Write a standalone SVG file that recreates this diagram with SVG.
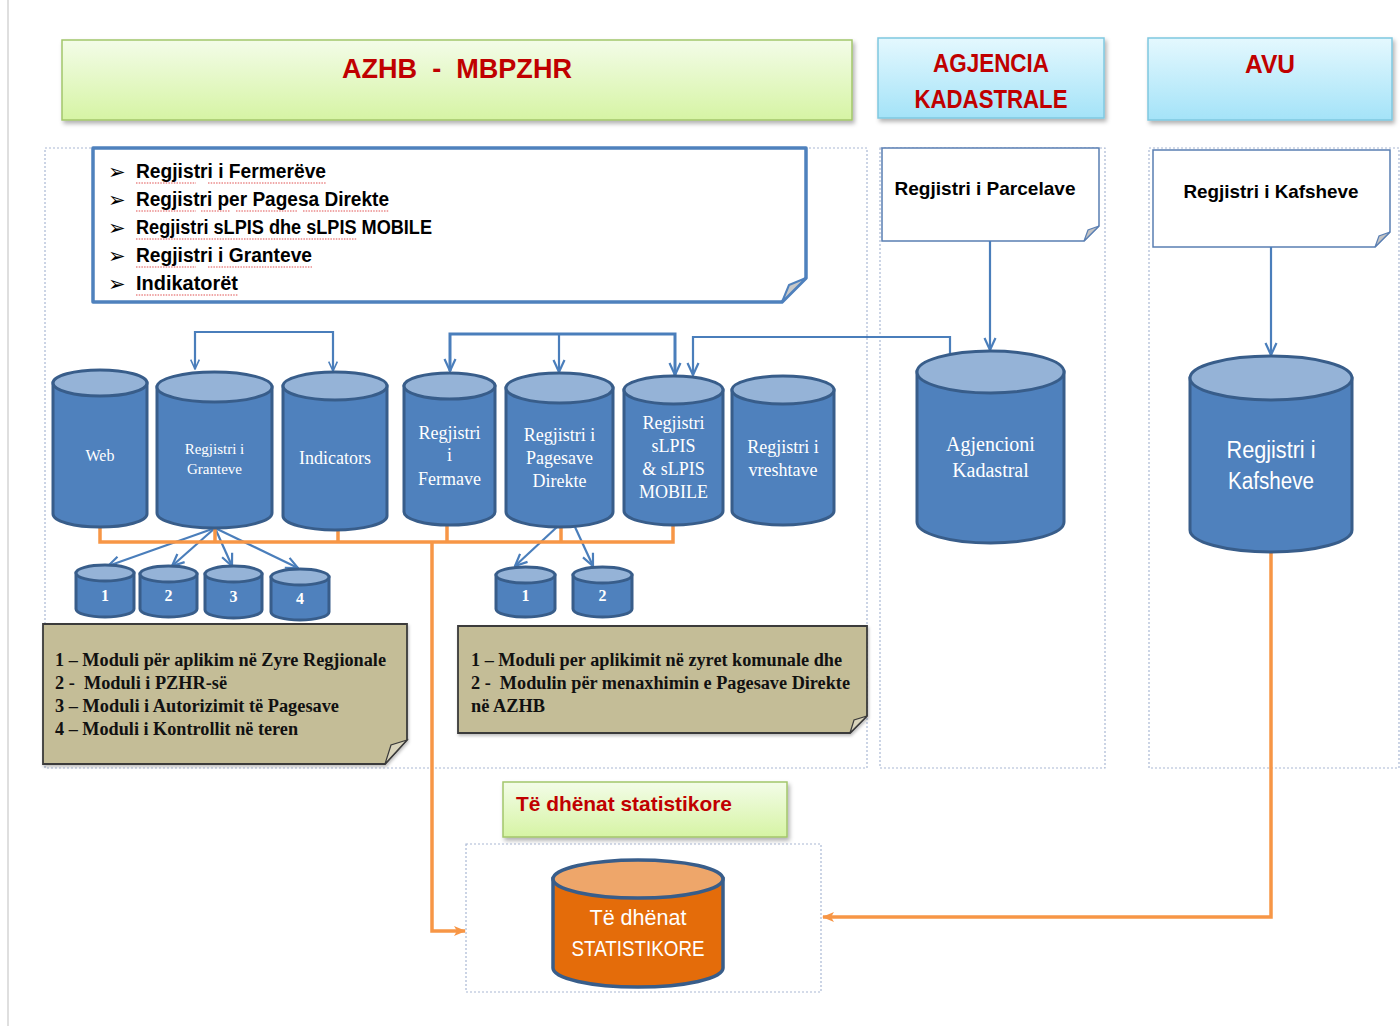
<svg xmlns="http://www.w3.org/2000/svg" width="1400" height="1026" viewBox="0 0 1400 1026">
<defs>
<linearGradient id="gGreen" x1="0" y1="0" x2="0" y2="1"><stop offset="0" stop-color="#f3fce8"/><stop offset="1" stop-color="#d6f4a4"/></linearGradient>
<linearGradient id="gBlue" x1="0" y1="0" x2="0" y2="1"><stop offset="0" stop-color="#e4f8fe"/><stop offset="1" stop-color="#a4e3f8"/></linearGradient>
<filter id="sh" x="-5%" y="-10%" width="110%" height="130%"><feDropShadow dx="2" dy="3" stdDeviation="2" flood-color="#000" flood-opacity="0.3"/></filter>
<filter id="sh2" x="-5%" y="-10%" width="110%" height="130%"><feDropShadow dx="1" dy="2" stdDeviation="1.5" flood-color="#000" flood-opacity="0.25"/></filter>
<marker id="chev" viewBox="0 0 14 14" refX="13" refY="7" markerWidth="14" markerHeight="14" markerUnits="userSpaceOnUse" orient="auto"><path d="M1 1.5 L13 7 L1 12.5" fill="none" stroke="#4a7ebb" stroke-width="2.2"/></marker>
<marker id="chevS" viewBox="0 0 14 14" refX="13" refY="7" markerWidth="11" markerHeight="11" markerUnits="userSpaceOnUse" orient="auto"><path d="M1 1.5 L13 7 L1 12.5" fill="none" stroke="#4a7ebb" stroke-width="2"/></marker>
<marker id="oarr" viewBox="0 0 12 12" refX="11" refY="6" markerWidth="12" markerHeight="12" markerUnits="userSpaceOnUse" orient="auto"><path d="M0 1 L12 6 L0 11 L3 6 Z" fill="#f79646"/></marker>
</defs>
<style>
.cyl{fill:#4f81bd;stroke:#385d8a;stroke-width:3}
.cylt{fill:#95b3d7;stroke:#385d8a;stroke-width:3}
.ocyl{fill:#e46c0a;stroke:#385d8a;stroke-width:3.5}
.ocylt{fill:#eea66a;stroke:#385d8a;stroke-width:3.5}
.ct{font-family:"Liberation Serif","DejaVu Serif",serif;fill:#fff;text-anchor:middle}
.num{font-family:"Liberation Serif",serif;font-weight:bold;font-size:16px;fill:#fff;text-anchor:middle}
.dash{fill:none;stroke:#a9b8d4;stroke-width:1.2;stroke-dasharray:2 2}
.hdr{font-family:"Liberation Sans","Open Sans",sans-serif;font-weight:bold;fill:#c00000;text-anchor:middle}
.lst{font-family:"Liberation Sans","Open Sans",sans-serif;font-weight:bold;font-size:20px;fill:#000}
.bul{font-family:"DejaVu Sans",sans-serif;font-size:21px;fill:#000}
.sq{stroke:#e05050;stroke-width:1.2;stroke-dasharray:1.5 1.2;fill:none}
.note{font-family:"Liberation Serif","DejaVu Serif",serif;font-weight:bold;font-size:18px;fill:#111}
.blue{fill:none;stroke:#4a7ebb;stroke-width:3}
.blue2{fill:none;stroke:#4a7ebb;stroke-width:2.2}
.org{fill:none;stroke:#f79646;stroke-width:3.5}
</style>
<rect width="1400" height="1026" fill="#fff"/>
<line x1="8" y1="0" x2="8" y2="1026" stroke="#d4d4d4" stroke-width="1.5"/>

<!-- dotted containers -->
<g id="containers">
<rect class="dash" x="45" y="148" width="822" height="620"/>
<rect class="dash" x="880" y="148" width="225" height="620"/>
<rect class="dash" x="1149" y="148" width="250" height="620"/>
<rect class="dash" x="466" y="844" width="355" height="148"/>
</g>

<!-- headers -->
<g id="hdr-azhb">
<rect x="62" y="40" width="790" height="80" fill="url(#gGreen)" stroke="#a3c66b" stroke-width="1.5" filter="url(#sh)"/>
<text class="hdr" x="457" y="78" font-size="28" xml:space="preserve" textLength="230" lengthAdjust="spacingAndGlyphs">AZHB  -  MBPZHR</text>
</g>
<g id="hdr-agjencia">
<rect x="878" y="38" width="226" height="80" fill="url(#gBlue)" stroke="#7fc8e0" stroke-width="1.5" filter="url(#sh)"/>
<text class="hdr" x="991" y="72" font-size="26" textLength="116" lengthAdjust="spacingAndGlyphs">AGJENCIA</text>
<text class="hdr" x="991" y="108" font-size="26" textLength="153" lengthAdjust="spacingAndGlyphs">KADASTRALE</text>
</g>
<g id="hdr-avu">
<rect x="1148" y="38" width="244" height="82" fill="url(#gBlue)" stroke="#7fc8e0" stroke-width="1.5" filter="url(#sh)"/>
<text class="hdr" x="1270" y="73" font-size="26" textLength="50" lengthAdjust="spacingAndGlyphs">AVU</text>
</g>
<g id="hdr-stat">
<rect x="503" y="782" width="284" height="55" fill="url(#gGreen)" stroke="#a3c66b" stroke-width="1.5" filter="url(#sh)"/>
<text class="hdr" x="516" y="811" font-size="21" style="text-anchor:start" textLength="216" lengthAdjust="spacingAndGlyphs">Të dhënat statistikore</text>
</g>

<!-- list note -->
<g id="note-list">
<path d="M93 148 H806 V278 L782 302 H93 Z" fill="#fff" stroke="#4f81bd" stroke-width="3.5" stroke-linejoin="round"/>
<path d="M806 278 L789 285 L782 302 Z" fill="#c8c8c8" stroke="#4f81bd" stroke-width="2" stroke-linejoin="round"/>
<text class="bul" x="108" y="179">➢</text>
<text class="bul" x="108" y="207">➢</text>
<text class="bul" x="108" y="235">➢</text>
<text class="bul" x="108" y="263">➢</text>
<text class="bul" x="108" y="291">➢</text>
<text class="lst" x="136" y="178" textLength="190" lengthAdjust="spacingAndGlyphs">Regjistri i Fermerëve</text>
<text class="lst" x="136" y="206" textLength="253" lengthAdjust="spacingAndGlyphs">Regjistri per Pagesa Direkte</text>
<text class="lst" x="136" y="234" textLength="296" lengthAdjust="spacingAndGlyphs">Regjistri sLPIS dhe sLPIS MOBILE</text>
<text class="lst" x="136" y="262" textLength="176" lengthAdjust="spacingAndGlyphs">Regjistri i Granteve</text>
<text class="lst" x="136" y="290" textLength="102" lengthAdjust="spacingAndGlyphs">Indikatorët</text>
<path class="sq" d="M136 183 H196 M208 183 H326 M136 211 H196 M201 211 H230 M236 211 H297 M303 211 H389 M136 239 H357 M136 267 H196 M208 267 H312 M136 295 H238"/>
</g>

<g id="note-parcelave">
<path d="M882 148 H1099 V226 L1084 241 H882 Z" fill="#fff" stroke="#5a7fb3" stroke-width="1.5"/>
<path d="M1099 226 L1088 230 L1084 241 Z" fill="#c4c4c4" stroke="#5a7fb3" stroke-width="1.2"/>
<text class="lst" x="985" y="195" style="text-anchor:middle;font-size:19px" textLength="181" lengthAdjust="spacingAndGlyphs">Regjistri i Parcelave</text>
</g>
<g id="note-kafsheve">
<path d="M1153 150 H1390 V232 L1375 247 H1153 Z" fill="#fff" stroke="#5a7fb3" stroke-width="1.5"/>
<path d="M1390 232 L1379 236 L1375 247 Z" fill="#c4c4c4" stroke="#5a7fb3" stroke-width="1.2"/>
<text class="lst" x="1271" y="198" style="text-anchor:middle;font-size:19px" textLength="175" lengthAdjust="spacingAndGlyphs">Regjistri i Kafsheve</text>
</g>

<!-- connectors -->
<g id="connectors">
<path class="blue2" d="M264 332 H195 V369" marker-end="url(#chevS)"/>
<path class="blue2" d="M264 332 H333 V371" marker-end="url(#chevS)"/>
<path class="blue" d="M560 334 H450 V371" marker-end="url(#chev)"/>
<path class="blue" d="M560 334 H675 V375" marker-end="url(#chev)"/>
<path class="blue2" d="M559 334 V372" marker-end="url(#chev)"/>
<path class="blue2" d="M950 353 V337 H693 V375" marker-end="url(#chev)"/>
<path class="blue2" d="M990 241 V350" marker-end="url(#chev)"/>
<path class="blue2" d="M1271 247 V355" marker-end="url(#chev)"/>
<path class="blue2" d="M215 528 L108 566" marker-end="url(#chev)"/>
<path class="blue2" d="M215 528 L172 566" marker-end="url(#chev)"/>
<path class="blue2" d="M215 528 L232 566" marker-end="url(#chev)"/>
<path class="blue2" d="M215 528 L298 568" marker-end="url(#chev)"/>
<path class="blue2" d="M557 527 L515 566" marker-end="url(#chev)"/>
<path class="blue2" d="M575 527 L593 566" marker-end="url(#chev)"/>
<path class="org" d="M100 527 V542 H673 V525"/>
<path class="org" d="M215 528 V542 M338 530 V542 M447 525 V542 M561 527 V542"/>
<path class="org" d="M432 542 V931 H465" marker-end="url(#oarr)"/>
<path class="org" d="M1271 552 V917 H823" marker-end="url(#oarr)"/>
</g>

<!-- cylinders -->
<g id="cyl-web">
<path class="cyl" d="M53 383 V514 A47 13 0 0 0 147 514 V383 Z"/>
<ellipse class="cylt" cx="100" cy="383" rx="47" ry="13"/>
<text class="ct" x="100" y="461" font-size="16">Web</text>
</g>
<g id="cyl-granteve">
<path class="cyl" d="M157 387 V513 A57.5 15 0 0 0 272 513 V387 Z"/>
<ellipse class="cylt" cx="214.5" cy="387" rx="57.5" ry="15"/>
<text class="ct" x="214.5" y="454" font-size="15">Regjistri i</text>
<text class="ct" x="214.5" y="474" font-size="15">Granteve</text>
</g>
<g id="cyl-indicators">
<path class="cyl" d="M283 386 V516 A52 14 0 0 0 387 516 V386 Z"/>
<ellipse class="cylt" cx="335" cy="386" rx="52" ry="14"/>
<text class="ct" x="335" y="464" font-size="18">Indicators</text>
</g>
<g id="cyl-fermave">
<path class="cyl" d="M404 386 V512 A45.5 13 0 0 0 495 512 V386 Z"/>
<ellipse class="cylt" cx="449.5" cy="386" rx="45.5" ry="13"/>
<text class="ct" x="449.5" y="439" font-size="18">Regjistri</text>
<text class="ct" x="449.5" y="461" font-size="18">i</text>
<text class="ct" x="449.5" y="485" font-size="18">Fermave</text>
</g>
<g id="cyl-pagesave">
<path class="cyl" d="M506 388 V512 A53.5 15 0 0 0 613 512 V388 Z"/>
<ellipse class="cylt" cx="559.5" cy="388" rx="53.5" ry="15"/>
<text class="ct" x="559.5" y="441" font-size="18">Regjistri i</text>
<text class="ct" x="559.5" y="464" font-size="18">Pagesave</text>
<text class="ct" x="559.5" y="487" font-size="18">Direkte</text>
</g>
<g id="cyl-slpis">
<path class="cyl" d="M624 390 V511 A49.5 14 0 0 0 723 511 V390 Z"/>
<ellipse class="cylt" cx="673.5" cy="390" rx="49.5" ry="14"/>
<text class="ct" x="673.5" y="429" font-size="18">Regjistri</text>
<text class="ct" x="673.5" y="452" font-size="18">sLPIS</text>
<text class="ct" x="673.5" y="475" font-size="18">&amp; sLPIS</text>
<text class="ct" x="673.5" y="498" font-size="18">MOBILE</text>
</g>
<g id="cyl-vreshtave">
<path class="cyl" d="M732 390 V511 A51 14 0 0 0 834 511 V390 Z"/>
<ellipse class="cylt" cx="783" cy="390" rx="51" ry="14"/>
<text class="ct" x="783" y="453" font-size="18">Regjistri i</text>
<text class="ct" x="783" y="476" font-size="18">vreshtave</text>
</g>
<g id="cyl-agjencioni">
<path class="cyl" d="M917 372 V522 A73.5 21 0 0 0 1064 522 V372 Z"/>
<ellipse class="cylt" cx="990.5" cy="372" rx="73.5" ry="21"/>
<text class="ct" x="990.5" y="451" font-size="20">Agjencioni</text>
<text class="ct" x="990.5" y="477" font-size="20">Kadastral</text>
</g>
<g id="cyl-kafsheve">
<path class="cyl" d="M1190 378 V530 A81 22 0 0 0 1352 530 V378 Z"/>
<ellipse class="cylt" cx="1271" cy="378" rx="81" ry="22"/>
<text class="ct" x="1271" y="458" font-size="23" style="font-family:'Liberation Sans','Open Sans',sans-serif" textLength="89" lengthAdjust="spacingAndGlyphs">Regjistri i</text>
<text class="ct" x="1271" y="489" font-size="23" style="font-family:'Liberation Sans','Open Sans',sans-serif" textLength="86" lengthAdjust="spacingAndGlyphs">Kafsheve</text>
</g>
<g id="cyl-m1">
<path class="cyl" d="M76 573 V609 A29 8 0 0 0 134 609 V573 Z"/>
<ellipse class="cylt" cx="105" cy="573" rx="29" ry="8"/>
<text class="num" x="105" y="601">1</text>
</g>
<g id="cyl-m2">
<path class="cyl" d="M140 574 V609 A28.5 8 0 0 0 197 609 V574 Z"/>
<ellipse class="cylt" cx="168.5" cy="574" rx="28.5" ry="8"/>
<text class="num" x="168.5" y="601">2</text>
</g>
<g id="cyl-m3">
<path class="cyl" d="M205 574 V610 A28.5 8 0 0 0 262 610 V574 Z"/>
<ellipse class="cylt" cx="233.5" cy="574" rx="28.5" ry="8"/>
<text class="num" x="233.5" y="602">3</text>
</g>
<g id="cyl-m4">
<path class="cyl" d="M271 577 V612 A29 8 0 0 0 329 612 V577 Z"/>
<ellipse class="cylt" cx="300" cy="577" rx="29" ry="8"/>
<text class="num" x="300" y="604">4</text>
</g>
<g id="cyl-p1">
<path class="cyl" d="M496 575 V609 A29.5 8 0 0 0 555 609 V575 Z"/>
<ellipse class="cylt" cx="525.5" cy="575" rx="29.5" ry="8"/>
<text class="num" x="525.5" y="601">1</text>
</g>
<g id="cyl-p2">
<path class="cyl" d="M573 575 V609 A29.5 8 0 0 0 632 609 V575 Z"/>
<ellipse class="cylt" cx="602.5" cy="575" rx="29.5" ry="8"/>
<text class="num" x="602.5" y="601">2</text>
</g>

<!-- beige notes -->
<g id="note-modules-left">
<path d="M43 624 H407 V740 L385 764 H43 Z" fill="#c4bd97" stroke="#3a3a3a" stroke-width="1.8" filter="url(#sh2)"/>
<path d="M407 740 L391 745 L385 764 Z" fill="#d9d4bb" stroke="#3a3a3a" stroke-width="1.2"/>
<text class="note" x="55" y="666" textLength="331" lengthAdjust="spacingAndGlyphs">1 – Moduli për aplikim në Zyre Regjionale</text>
<text class="note" x="55" y="689" xml:space="preserve" textLength="172" lengthAdjust="spacingAndGlyphs">2 -  Moduli i PZHR-së</text>
<text class="note" x="55" y="712" textLength="284" lengthAdjust="spacingAndGlyphs">3 – Moduli i Autorizimit të Pagesave</text>
<text class="note" x="55" y="735" textLength="243" lengthAdjust="spacingAndGlyphs">4 – Moduli i Kontrollit në teren</text>
</g>
<g id="note-modules-right">
<path d="M458 626 H867 V716 L850 733 H458 Z" fill="#c4bd97" stroke="#3a3a3a" stroke-width="1.8" filter="url(#sh2)"/>
<path d="M867 716 L854 720 L850 733 Z" fill="#d9d4bb" stroke="#3a3a3a" stroke-width="1.2"/>
<text class="note" x="471" y="666" textLength="371" lengthAdjust="spacingAndGlyphs">1 – Moduli per aplikimit në zyret komunale dhe</text>
<text class="note" x="471" y="689" xml:space="preserve" textLength="379" lengthAdjust="spacingAndGlyphs">2 -  Modulin për menaxhimin e Pagesave Direkte</text>
<text class="note" x="471" y="712" textLength="74" lengthAdjust="spacingAndGlyphs">në AZHB</text>
</g>

<!-- statistics cylinder -->
<g id="cyl-stat">
<path class="ocyl" d="M553 879 V968 A85 19 0 0 0 723 968 V879 Z"/>
<ellipse class="ocylt" cx="638" cy="879" rx="85" ry="19"/>
<text class="ct" x="638" y="925" font-size="22" style="font-family:'Liberation Sans','Open Sans',sans-serif" textLength="97" lengthAdjust="spacingAndGlyphs">Të dhënat</text>
<text class="ct" x="638" y="956" font-size="22" style="font-family:'Liberation Sans','Open Sans',sans-serif" textLength="133" lengthAdjust="spacingAndGlyphs">STATISTIKORE</text>
</g>
</svg>
